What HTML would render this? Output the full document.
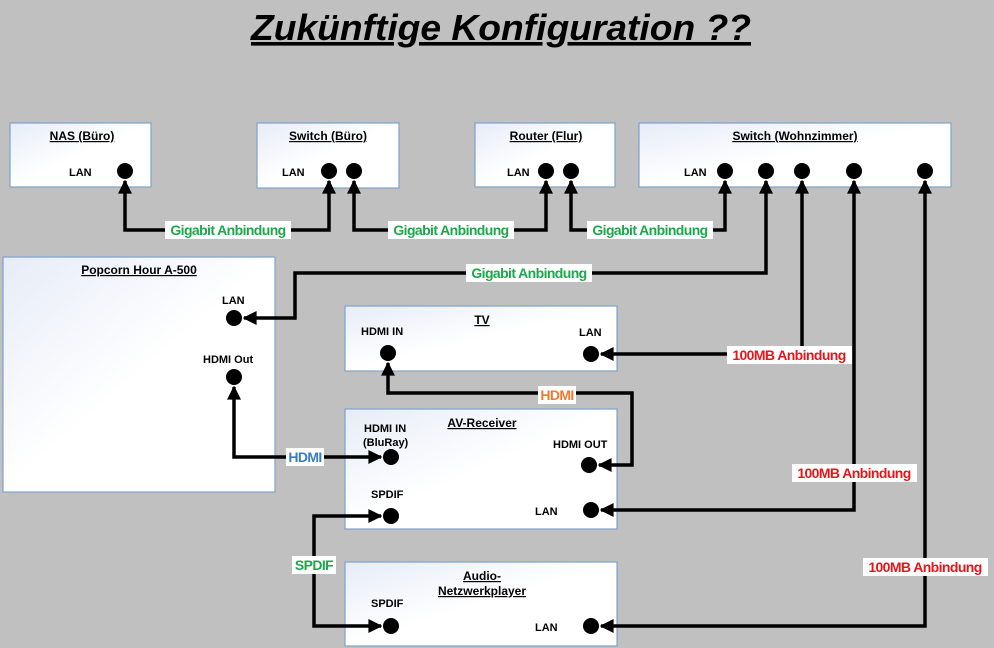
<!DOCTYPE html>
<html><head><meta charset="utf-8"><style>
body{margin:0;background:#c0c0c0;}
svg{display:block;font-family:"Liberation Sans",sans-serif;}
.bx{stroke:#7ea2cc;stroke-width:1.2;fill:url(#g);}
.t{font-weight:bold;font-size:12px;text-decoration:underline;text-anchor:middle;}
.p{font-weight:bold;font-size:11px;}
.l{fill:none;stroke:#000;stroke-width:3.5;stroke-linejoin:miter;}
.lb{font-weight:bold;font-size:14px;text-anchor:middle;letter-spacing:-0.6px;}
</style></head><body>
<svg width="994" height="648" viewBox="0 0 994 648">
<defs>
<linearGradient id="g" x1="0" y1="0" x2="1" y2="1"><stop offset="0" stop-color="#e6ecf7"/><stop offset="0.5" stop-color="#fff"/><stop offset="1" stop-color="#fff"/></linearGradient>
<marker id="a" viewBox="0 0 10 10" refX="9" refY="5" markerWidth="4.6" markerHeight="4" orient="auto-start-reverse" markerUnits="strokeWidth"><path d="M0,0L10,5L0,10z" fill="#000"/></marker>
</defs>
<text x="251" y="40" font-size="36" font-weight="bold" font-style="italic" text-decoration="underline" textLength="500" lengthAdjust="spacingAndGlyphs">Zukünftige Konfiguration ??</text>

<rect class="bx" x="10" y="123" width="141" height="64"/>
<text class="t" x="82" y="140">NAS (Büro)</text><text class="p" x="69" y="176">LAN</text>
<rect class="bx" x="257" y="123" width="142" height="65"/>
<text class="t" x="328" y="140">Switch (Büro)</text><text class="p" x="282" y="176">LAN</text>
<rect class="bx" x="475" y="123" width="140" height="64"/>
<text class="t" x="546" y="140">Router (Flur)</text><text class="p" x="507" y="176">LAN</text>
<rect class="bx" x="639" y="123" width="312" height="64"/>
<text class="t" x="795" y="140">Switch (Wohnzimmer)</text><text class="p" x="684" y="176">LAN</text>
<rect class="bx" x="3" y="257" width="272" height="235"/>
<text class="t" x="139" y="274">Popcorn Hour A-500</text><text class="p" x="222" y="304">LAN</text><text class="p" x="203" y="363">HDMI Out</text>
<rect class="bx" x="345" y="306" width="272" height="65"/>
<text class="t" x="482" y="324">TV</text><text class="p" x="361" y="335">HDMI IN</text><text class="p" x="579" y="336">LAN</text>
<rect class="bx" x="345" y="409" width="272" height="120"/>
<text class="t" x="482" y="427">AV-Receiver</text><text class="p" x="364" y="432">HDMI IN</text><text class="p" x="363" y="446">(BluRay)</text><text class="p" x="553" y="448">HDMI OUT</text><text class="p" x="371" y="498">SPDIF</text><text class="p" x="535" y="515">LAN</text>
<rect class="bx" x="345" y="562" width="272" height="84"/>
<text class="t" x="482" y="580">Audio-</text><text class="t" x="482" y="595">Netzwerkplayer</text><text class="p" x="371" y="607">SPDIF</text><text class="p" x="535" y="631">LAN</text>

<g fill="#000">
<circle cx="125" cy="171" r="8"/><circle cx="329" cy="171" r="8"/><circle cx="354" cy="171" r="8"/>
<circle cx="546" cy="171" r="8"/><circle cx="571" cy="171" r="8"/>
<circle cx="725" cy="171" r="8"/><circle cx="766" cy="171" r="8"/><circle cx="802" cy="171" r="8"/><circle cx="854" cy="171" r="8"/><circle cx="925" cy="171" r="8"/>
<circle cx="234" cy="318" r="8"/><circle cx="234" cy="377" r="8"/>
<circle cx="388" cy="353" r="8"/><circle cx="591" cy="354" r="8"/>
<circle cx="391" cy="457" r="8"/><circle cx="589" cy="465" r="8"/><circle cx="391" cy="516" r="8"/><circle cx="591" cy="510" r="8"/>
<circle cx="391" cy="626" r="8"/><circle cx="591" cy="626" r="8"/>
</g>

<path class="l" marker-start="url(#a)" marker-end="url(#a)" d="M125,181V230H329V181"/>
<path class="l" marker-start="url(#a)" marker-end="url(#a)" d="M354,181V230H546V181"/>
<path class="l" marker-start="url(#a)" marker-end="url(#a)" d="M571,181V230H725V181"/>
<path class="l" marker-start="url(#a)" marker-end="url(#a)" d="M766,181V273H295V318H244"/>
<path class="l" marker-start="url(#a)" marker-end="url(#a)" d="M802,181V354H601"/>
<path class="l" marker-start="url(#a)" marker-end="url(#a)" d="M854,181V510H601"/>
<path class="l" marker-start="url(#a)" marker-end="url(#a)" d="M925,181V626H601"/>
<path class="l" marker-start="url(#a)" marker-end="url(#a)" d="M234,387V457H381"/>
<path class="l" marker-start="url(#a)" marker-end="url(#a)" d="M599,465H632V393H388V363"/>
<path class="l" marker-start="url(#a)" marker-end="url(#a)" d="M381,516H314V626H381"/>

<g>
<rect x="165" y="221" width="126" height="18" fill="#fff"/><text class="lb" x="228" y="235" fill="#1aa84a">Gigabit Anbindung</text>
<rect x="388" y="221" width="126" height="18" fill="#fff"/><text class="lb" x="451" y="235" fill="#1aa84a">Gigabit Anbindung</text>
<rect x="587" y="221" width="126" height="18" fill="#fff"/><text class="lb" x="650" y="235" fill="#1aa84a">Gigabit Anbindung</text>
<rect x="466" y="264" width="126" height="18" fill="#fff"/><text class="lb" x="529" y="278" fill="#1aa84a">Gigabit Anbindung</text>
<rect x="727" y="346" width="125" height="18" fill="#fff"/><text class="lb" x="789" y="360" fill="#e8141b">100MB Anbindung</text>
<rect x="792" y="464" width="125" height="18" fill="#fff"/><text class="lb" x="854" y="478" fill="#e8141b">100MB Anbindung</text>
<rect x="863" y="558" width="125" height="18" fill="#fff"/><text class="lb" x="925" y="572" fill="#e8141b">100MB Anbindung</text>
<rect x="286" y="448" width="38" height="18" fill="#fff"/><text class="lb" x="305" y="462" fill="#3a7cc0">HDMI</text>
<rect x="538" y="386" width="38" height="18" fill="#fff"/><text class="lb" x="557" y="400" fill="#ef7a2e">HDMI</text>
<rect x="292" y="556" width="44" height="18" fill="#fff"/><text class="lb" x="314" y="570" fill="#1aa84a">SPDIF</text>
</g>
</svg>
</body></html>
